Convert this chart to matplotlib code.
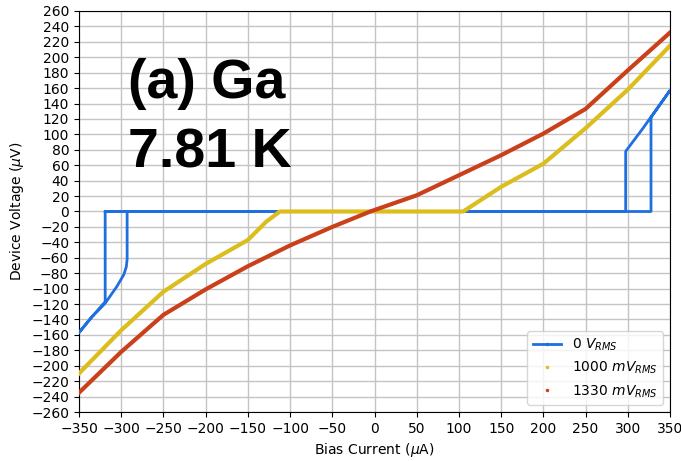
import matplotlib
matplotlib.use("Agg")
import matplotlib.pyplot as plt
from matplotlib.lines import Line2D

# ---- data ----
blue_bias = [-319, 327.5, 327.5, 350, 316.7, 297.5, 297.5, -319, -319, -335, -350,
             -335, -319, -305, -297, -294, -293, -293]
blue_volt = [0, 0, 122, 157, 106, 78, 0, 0, -117, -137, -157,
             -137, -119, -97, -82, -72, -62, 0]

yellow_bias = [-350, -300, -250, -200, -150, -128, -112, 105, 150, 200, 250, 300, 350]
yellow_volt = [-210, -154, -104, -68, -37, -13, 0, 0, 32, 62, 108, 158, 215]

red_bias = [-350, -300, -250, -200, -150, -113, -100, -50, -5, 50, 100, 150, 200, 250, 300, 350]
red_volt = [-235, -182, -134, -101, -71, -51, -44, -20, 0, 21, 47, 73, 101, 133, 183, 232]

labels = ["0 $V_{RMS}$", "1000 $mV_{RMS}$", "1330 $mV_{RMS}$"]
colors = ["#1f6fe0", "#dcbd1e", "#c9401a"]

x_ticks = list(range(-350, 351, 50))
y_ticks = list(range(-260, 261, 20))

# ---- figure ----
fig = plt.figure(figsize=(6.81, 4.61), dpi=100)
ax = fig.add_axes([79/681, 49/461, (670-79)/681, (412-11)/461])

ax.plot(blue_bias, blue_volt, color=colors[0], lw=2, zorder=3)
ax.plot(yellow_bias, yellow_volt, color=colors[1], lw=3, zorder=4)
ax.plot(red_bias, red_volt, color=colors[2], lw=3, zorder=5)

ax.set_xlim(-350, 350)
ax.set_ylim(-260, 260)
ax.set_xticks(x_ticks)
ax.set_yticks(y_ticks)
ax.tick_params(labelsize=10)
ax.grid(True, color="#c4c4c4", lw=1)
ax.set_axisbelow(True)
ax.set_xlabel("Bias Current ($\\mu$A)", fontsize=10)
ax.set_ylabel("Device Voltage ($\\mu$V)", fontsize=10)

handles = [
    Line2D([], [], color=colors[0], lw=2, marker=".", markersize=3),
    Line2D([], [], color=colors[1], lw=0, marker=".", markersize=3),
    Line2D([], [], color=colors[2], lw=0, marker=".", markersize=3),
]
ax.legend(handles, labels, loc="lower right", fontsize=10)

fig.text(128/681, 1 - 98/461, "(a) Ga", fontsize=40, fontweight="bold",
         family="Liberation Sans", va="baseline", ha="left")
fig.text(128/681, 1 - 168/461, "7.81 K", fontsize=40, fontweight="bold",
         family="Liberation Sans", va="baseline", ha="left")

fig.savefig("out.png", dpi=100)
